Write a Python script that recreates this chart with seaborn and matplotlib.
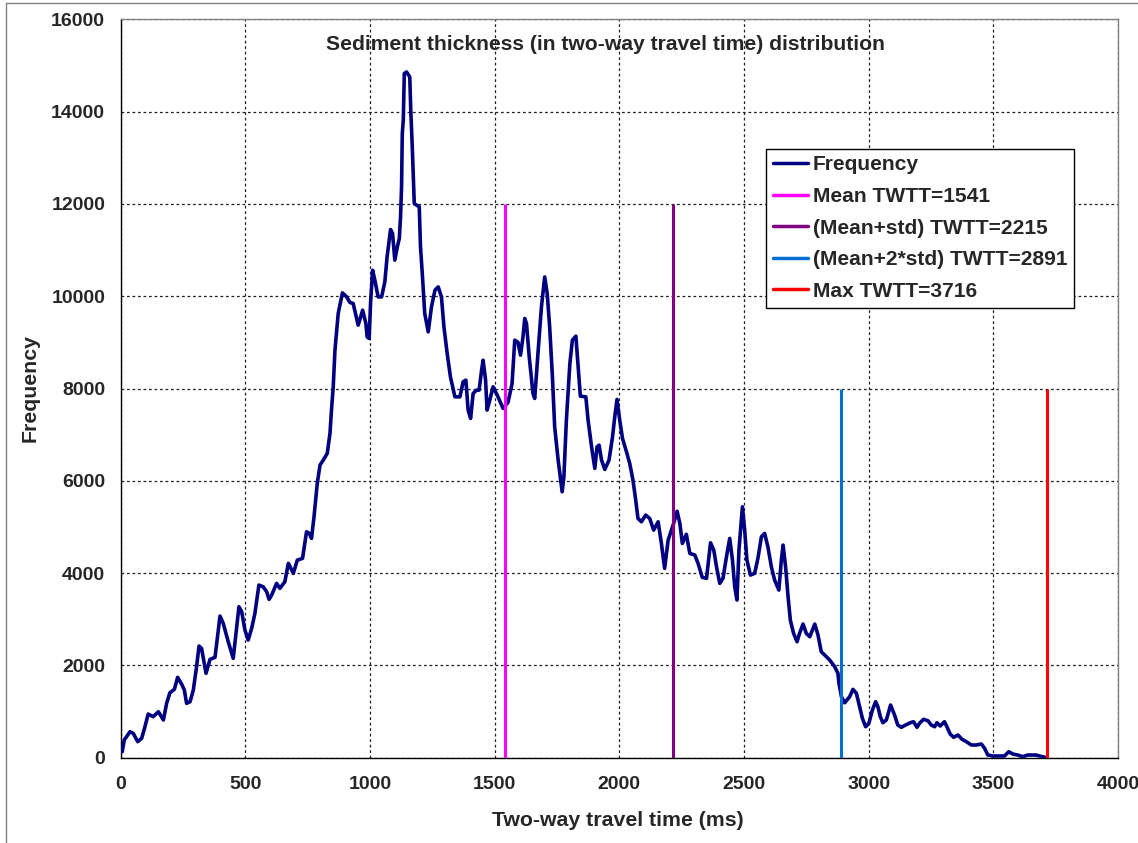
import numpy as np
import pandas as pd
import matplotlib
matplotlib.use("Agg")
import matplotlib.pyplot as plt
import seaborn as sns
from matplotlib.lines import Line2D

# Two-way travel time (ms) and frequency of the sediment thickness histogram
twtt_ms = [
    7, 15, 38, 51, 69, 85, 98, 111, 131, 152, 172, 185, 198, 216, 229, 245, 256, 265, 279, 292,
    305, 315, 325, 343, 359, 379, 399, 412, 432, 452, 466, 475, 486, 499, 512, 526, 539, 555, 572, 586,
    596, 606, 626, 639, 659, 673, 679, 693, 709, 730, 746, 757, 766, 776, 789, 800, 813, 829, 840, 846,
    853, 860, 873, 890, 907, 920, 933, 953, 971, 984, 989, 997, 1003, 1011, 1020, 1033, 1047, 1060, 1069, 1083,
    1091, 1100, 1110, 1118, 1123, 1127, 1130, 1134, 1138, 1147, 1160, 1164, 1170, 1178, 1198, 1203, 1211, 1220, 1234, 1247,
    1261, 1274, 1287, 1297, 1310, 1323, 1341, 1361, 1374, 1385, 1394, 1404, 1414, 1428, 1438, 1448, 1454, 1464, 1470, 1481,
    1494, 1514, 1534, 1554, 1570, 1581, 1594, 1604, 1614, 1621, 1628, 1639, 1654, 1661, 1675, 1688, 1701, 1711, 1721, 1732,
    1741, 1755, 1771, 1778, 1788, 1802, 1812, 1826, 1835, 1844, 1866, 1875, 1889, 1902, 1911, 1919, 1929, 1942, 1959, 1973,
    1982, 1991, 2002, 2013, 2029, 2042, 2055, 2066, 2075, 2089, 2106, 2122, 2138, 2156, 2169, 2182, 2196, 2216, 2232, 2243,
    2253, 2269, 2283, 2303, 2316, 2333, 2350, 2366, 2379, 2390, 2403, 2416, 2430, 2443, 2454, 2463, 2472, 2480, 2494, 2503,
    2512, 2526, 2543, 2556, 2570, 2583, 2596, 2610, 2623, 2640, 2650, 2657, 2667, 2677, 2686, 2699, 2713, 2723, 2737, 2750,
    2764, 2784, 2797, 2810, 2824, 2844, 2864, 2877, 2881, 2891, 2904, 2924, 2937, 2951, 2964, 2975, 2988, 3001, 3015, 3028,
    3037, 3047, 3057, 3071, 3088, 3104, 3117, 3131, 3148, 3167, 3180, 3194, 3204, 3220, 3238, 3251, 3265, 3274, 3287, 3304,
    3314, 3327, 3341, 3358, 3375, 3392, 3412, 3432, 3452, 3465, 3478, 3498, 3545, 3562, 3578, 3598, 3618, 3638, 3672, 3696,
    3705,
]
frequency = [
    130, 383, 563, 528, 347, 420, 671, 946, 888, 996, 817, 1178, 1408, 1481, 1741, 1596, 1466, 1178, 1213, 1466,
    1971, 2419, 2370, 1828, 2131, 2175, 3069, 2911, 2513, 2153, 2837, 3271, 3162, 2766, 2549, 2803, 3128, 3741, 3704, 3596,
    3431, 3524, 3778, 3669, 3812, 4211, 4150, 3994, 4282, 4319, 4895, 4860, 4752, 5220, 5943, 6340, 6448, 6593, 7026, 7531,
    8036, 8831, 9626, 10072, 9985, 9864, 9842, 9372, 9697, 9409, 9119, 9084, 9877, 10563, 10347, 9985, 9985, 10310, 10852, 11445,
    11358, 10780, 11068, 11250, 11718, 12368, 13524, 13813, 14824, 14859, 14750, 14029, 13234, 12008, 11935, 11068, 10418, 9626, 9227, 9769,
    10130, 10202, 9985, 9335, 8759, 8253, 7819, 7819, 8144, 8181, 7531, 7351, 7893, 7964, 7964, 8398, 8614, 8181, 7531, 7750,
    8036, 7819, 7568, 7700, 8100, 9047, 9000, 8722, 9119, 9517, 9409, 8686, 7893, 7784, 8831, 9769, 10418, 10059, 9335, 8253,
    7169, 6448, 5762, 6086, 7314, 8542, 9047, 9134, 8469, 7834, 7819, 7314, 6736, 6268, 6736, 6773, 6448, 6247, 6448, 6953,
    7386, 7763, 7314, 6918, 6628, 6376, 6015, 5582, 5185, 5112, 5257, 5185, 4932, 5112, 4643, 4102, 4715, 5040, 5340, 5077,
    4643, 4840, 4427, 4391, 4211, 3907, 3886, 4657, 4499, 4137, 3777, 3886, 4354, 4752, 4282, 3704, 3416, 4499, 5437, 4932,
    4282, 3957, 3994, 4319, 4787, 4860, 4570, 4137, 3849, 3632, 4282, 4607, 4137, 3487, 2983, 2694, 2513, 2694, 2896, 2694,
    2621, 2896, 2658, 2296, 2224, 2116, 1971, 1828, 1611, 1321, 1190, 1321, 1481, 1395, 1105, 853, 671, 745, 1033, 1213,
    1105, 888, 758, 817, 1141, 925, 708, 658, 708, 758, 780, 658, 745, 832, 801, 708, 671, 758, 687, 780,
    671, 513, 442, 492, 398, 347, 275, 275, 297, 203, 58, 37, 37, 130, 80, 58, 22, 58, 58, 22,
    15,
]

# Reference travel times with their marker heights and colours
marker_labels = ["Mean TWTT=1541", "(Mean+std) TWTT=2215", "(Mean+2*std) TWTT=2891", "Max TWTT=3716"]
marker_twtt = [1541, 2215, 2891, 3716]
marker_top = [12000, 12000, 8000, 8000]
marker_colors = ["#FF00FF", "#800080", "#0070D0", "#FF0000"]

x_ticks = [0, 500, 1000, 1500, 2000, 2500, 3000, 3500, 4000]
y_ticks = [0, 2000, 4000, 6000, 8000, 10000, 12000, 14000, 16000]

sns.set_style("white")
plt.rcParams["font.family"] = ["Liberation Sans", "DejaVu Sans"]
plt.rcParams["font.weight"] = "bold"

W, H = 1138, 843
fig = plt.figure(figsize=(W / 100, H / 100), dpi=100)
left, right, top, bottom = 120.5, 1118.0, 19.3, 757.7
ax = fig.add_axes([left / W, 1 - bottom / H, (right - left) / W, (bottom - top) / H])

df = pd.DataFrame({"twtt": twtt_ms, "freq": frequency})
sns.lineplot(data=df, x="twtt", y="freq", ax=ax, color="#000080", linewidth=2.6,
             sort=False, estimator=None, zorder=3)

for xv, yt, c in zip(marker_twtt, marker_top, marker_colors):
    ax.vlines(xv, 0, yt, color=c, linewidth=2.2, zorder=4)

ax.set_xlim(0, 4000)
ax.set_ylim(0, 16000)
ax.set_xticks(x_ticks)
ax.set_yticks(y_ticks)
ax.set_xticklabels([str(t) for t in x_ticks], fontsize=14, fontweight="bold")
ax.set_yticklabels([str(t) for t in y_ticks], fontsize=14, fontweight="bold")
ax.tick_params(axis="both", direction="out", length=5, width=1, color="black", pad=6)
ax.tick_params(axis="x", pad=8)

ax.grid(True, color="#202020", linestyle=(0, (2.2, 2.2)), linewidth=0.9)
ax.set_axisbelow(True)
for s in ["left", "bottom"]:
    ax.spines[s].set_color("black")
    ax.spines[s].set_linewidth(1.0)
for s in ["top", "right"]:
    ax.spines[s].set_color("#808080")
    ax.spines[s].set_linewidth(1.0)

ax.set_xlabel("Two-way travel time (ms)", fontsize=15.3, fontweight="bold", va="center")
ax.set_ylabel("Frequency", fontsize=15.3, fontweight="bold", va="center")
ax.xaxis.set_label_coords((618 - left) / (right - left), (bottom - 820) / (bottom - top))
ax.yaxis.set_label_coords((30 - left) / (right - left), (bottom - 388) / (bottom - top))

ax.text((605 - left) / (right - left), (bottom - 45) / (bottom - top),
        "Sediment thickness (in two-way travel time) distribution",
        transform=ax.transAxes, ha="center", va="center", fontsize=15.2, fontweight="bold")

handles = [Line2D([], [], color="#000080", linewidth=2.5)]
handles += [Line2D([], [], color=c, linewidth=2.5) for c in marker_colors]
labels = ["Frequency"] + marker_labels
leg = ax.legend(handles, labels, loc="upper left",
                bbox_to_anchor=(766 / W, 1 - 148.5 / H), bbox_transform=fig.transFigure,
                borderaxespad=0, frameon=True, fancybox=False, framealpha=1,
                edgecolor="black", prop={"weight": "bold", "size": 15.1},
                handlelength=1.65, handletextpad=0.25, labelspacing=0.6,
                borderpad=0.33)
leg.get_frame().set_linewidth(1.0)

# chart outer frame (left and top edges visible)
fig.add_artist(Line2D([6 / W, 6 / W], [0, 1 - 3 / H], transform=fig.transFigure,
                      color="#808080", linewidth=1.0))
fig.add_artist(Line2D([6 / W, 1], [1 - 3 / H, 1 - 3 / H], transform=fig.transFigure,
                      color="#808080", linewidth=1.0))

fig.savefig("out.png", dpi=100, facecolor="white")
